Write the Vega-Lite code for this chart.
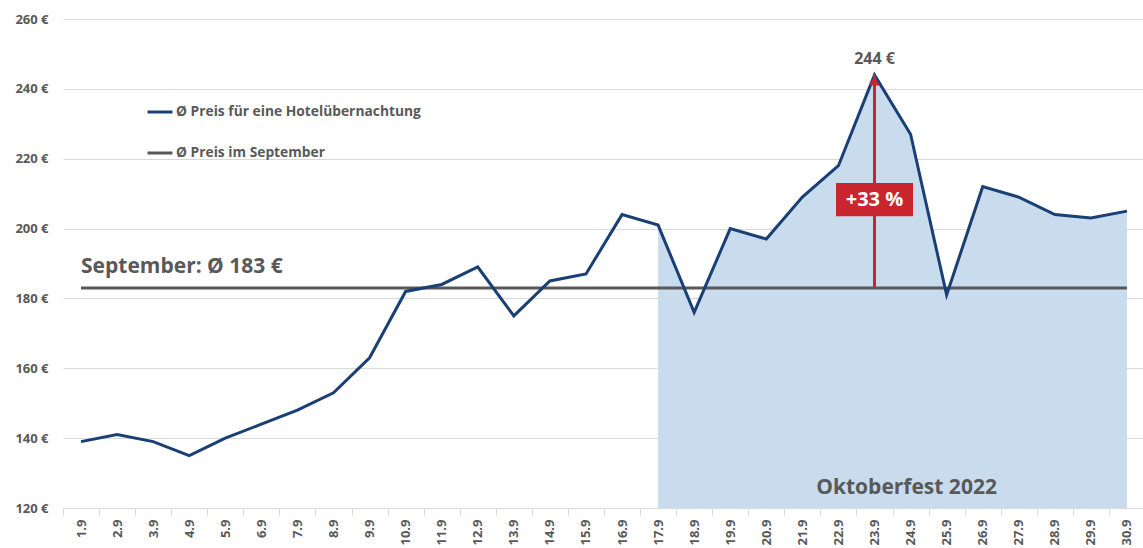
{
  "$schema": "https://vega.github.io/schema/vega-lite/v6.json",
  "width": 1082,
  "height": 489,
  "autosize": {"type": "none"},
  "padding": {"left": 63, "top": 19, "right": 0, "bottom": 40},
  "background": "white",
  "config": {
    "view": {"stroke": null},
    "font": "Open Sans",
    "axis": {"labelFont": "Open Sans", "labelFontWeight": "bold", "labelColor": "#595959", "labelFontSize": 13}
  },
  "datasets": {
    "prices": [
      {"d": "1.9", "day": 1, "v": 139},
      {"d": "2.9", "day": 2, "v": 141},
      {"d": "3.9", "day": 3, "v": 139},
      {"d": "4.9", "day": 4, "v": 135},
      {"d": "5.9", "day": 5, "v": 140},
      {"d": "6.9", "day": 6, "v": 144},
      {"d": "7.9", "day": 7, "v": 148},
      {"d": "8.9", "day": 8, "v": 153},
      {"d": "9.9", "day": 9, "v": 163},
      {"d": "10.9", "day": 10, "v": 182},
      {"d": "11.9", "day": 11, "v": 184},
      {"d": "12.9", "day": 12, "v": 189},
      {"d": "13.9", "day": 13, "v": 175},
      {"d": "14.9", "day": 14, "v": 185},
      {"d": "15.9", "day": 15, "v": 187},
      {"d": "16.9", "day": 16, "v": 204},
      {"d": "17.9", "day": 17, "v": 201},
      {"d": "18.9", "day": 18, "v": 176},
      {"d": "19.9", "day": 19, "v": 200},
      {"d": "20.9", "day": 20, "v": 197},
      {"d": "21.9", "day": 21, "v": 209},
      {"d": "22.9", "day": 22, "v": 218},
      {"d": "23.9", "day": 23, "v": 244},
      {"d": "24.9", "day": 24, "v": 227},
      {"d": "25.9", "day": 25, "v": 181},
      {"d": "26.9", "day": 26, "v": 212},
      {"d": "27.9", "day": 27, "v": 209},
      {"d": "28.9", "day": 28, "v": 204},
      {"d": "29.9", "day": 29, "v": 203},
      {"d": "30.9", "day": 30, "v": 205}
    ],
    "avg": [
      {"d": "1.9", "v": 183},
      {"d": "30.9", "v": 183}
    ],
    "peak": [
      {"d": "23.9", "lo": 183, "hi": 244, "pct": "+33 %", "lbl": "244 €"}
    ]
  },
  "layer": [
    {
      "data": {"name": "prices"},
      "transform": [{"filter": "datum.day >= 17"}],
      "mark": {"type": "area", "color": "#c9dcee", "opacity": 1},
      "encoding": {
        "x": {
          "field": "d", "type": "ordinal", "sort": null,
          "scale": {
            "type": "band", "paddingInner": 0, "paddingOuter": 0,
            "domain": ["1.9","2.9","3.9","4.9","5.9","6.9","7.9","8.9","9.9","10.9","11.9","12.9","13.9","14.9","15.9","16.9","17.9","18.9","19.9","20.9","21.9","22.9","23.9","24.9","25.9","26.9","27.9","28.9","29.9","30.9"]
          },
          "axis": {
            "title": null, "labelAngle": -90, "tickBand": "extent",
            "domainColor": "#d9d9d9", "tickColor": "#d9d9d9", "tickSize": 7,
            "labelPadding": 4, "grid": false
          }
        },
        "y": {
          "field": "v", "type": "quantitative",
          "scale": {"domain": [120, 260], "nice": false, "zero": false},
          "axis": {
            "title": null, "values": [120, 140, 160, 180, 200, 220, 240, 260],
            "labelExpr": "datum.value + ' €'", "domain": false, "ticks": false,
            "labelPadding": 15, "gridColor": "#d9d9d9", "gridWidth": 1
          }
        },
        "y2": {"datum": 120}
      }
    },
    {
      "data": {"name": "avg"},
      "mark": {"type": "line", "strokeWidth": 3},
      "encoding": {
        "x": {"field": "d", "type": "ordinal"},
        "y": {"field": "v", "type": "quantitative"},
        "color": {"datum": "Ø Preis im September", "type": "nominal"}
      }
    },
    {
      "data": {"name": "prices"},
      "mark": {"type": "line", "strokeWidth": 3},
      "encoding": {
        "x": {"field": "d", "type": "ordinal"},
        "y": {"field": "v", "type": "quantitative"},
        "color": {
          "datum": "Ø Preis für eine Hotelübernachtung", "type": "nominal",
          "scale": {
            "domain": ["Ø Preis für eine Hotelübernachtung", "Ø Preis im September"],
            "range": ["#1a3f75", "#595959"]
          },
          "legend": {
            "title": null, "orient": "none", "legendX": 83, "legendY": 79,
            "padding": 0, "symbolType": "stroke", "symbolSize": 625, "symbolStrokeWidth": 3,
            "labelFont": "Open Sans", "labelFontWeight": "bold", "labelFontSize": 13.8, "labelLimit": 0,
            "labelColor": "#595959", "labelOffset": 2, "rowPadding": 20, "symbolOffset": 0
          }
        }
      }
    },
    {
      "data": {"name": "peak"},
      "mark": {"type": "rule", "color": "#c9252f", "strokeWidth": 3},
      "encoding": {
        "x": {"field": "d", "type": "ordinal"},
        "y": {"field": "lo", "type": "quantitative"},
        "y2": {"field": "hi"}
      }
    },
    {
      "data": {"name": "peak"},
      "mark": {"type": "point", "shape": "triangle-up", "filled": true, "color": "#c9252f", "size": 110, "opacity": 1, "yOffset": 6},
      "encoding": {
        "x": {"field": "d", "type": "ordinal"},
        "y": {"field": "hi", "type": "quantitative"}
      }
    },
    {
      "data": {"name": "peak"},
      "mark": {"type": "point", "shape": "M-1,-0.43H1V0.43H-1Z", "filled": true, "color": "#c9252f", "size": 5929, "opacity": 1},
      "encoding": {
        "x": {"field": "d", "type": "ordinal"},
        "y": {"datum": 208.3, "type": "quantitative"}
      }
    },
    {
      "data": {"name": "peak"},
      "mark": {"type": "text", "color": "white", "font": "Open Sans", "fontWeight": "bold", "fontSize": 20, "baseline": "middle", "align": "center"},
      "encoding": {
        "x": {"field": "d", "type": "ordinal"},
        "y": {"datum": 208.3, "type": "quantitative"},
        "text": {"field": "pct"}
      }
    },
    {
      "data": {"name": "peak"},
      "mark": {"type": "text", "color": "#595959", "font": "Open Sans", "fontWeight": "bold", "fontSize": 16, "baseline": "middle", "align": "center", "dy": -16},
      "encoding": {
        "x": {"field": "d", "type": "ordinal"},
        "y": {"field": "hi", "type": "quantitative"},
        "text": {"field": "lbl"}
      }
    },
    {
      "data": {"values": [{"t": "September: Ø 183 €"}]},
      "mark": {"type": "text", "color": "#595959", "font": "Open Sans", "fontWeight": "bold", "fontSize": 21, "baseline": "middle", "align": "left"},
      "encoding": {
        "x": {"datum": "1.9", "type": "ordinal"},
        "y": {"datum": 189, "type": "quantitative"},
        "text": {"field": "t"}
      }
    },
    {
      "data": {"values": [{"t": "Oktoberfest 2022"}]},
      "mark": {"type": "text", "color": "#595959", "font": "Open Sans", "fontWeight": "bold", "fontSize": 21, "baseline": "middle", "align": "center", "dx": -4},
      "encoding": {
        "x": {"datum": "24.9", "type": "ordinal"},
        "y": {"datum": 125.7, "type": "quantitative"},
        "text": {"field": "t"}
      }
    }
  ]
}
